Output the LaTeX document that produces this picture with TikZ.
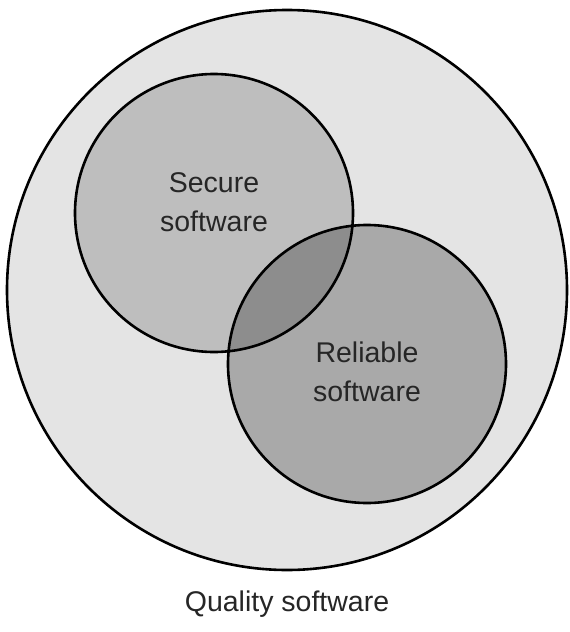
\documentclass[tikz,border=0pt]{standalone}
\usepackage{fontspec}
\setmainfont{Liberation Sans}
\definecolor{outerfill}{HTML}{E4E4E4}
\definecolor{securefill}{HTML}{BEBEBE}
\definecolor{relfill}{HTML}{A9A9A9}
\definecolor{bothfill}{HTML}{8D8D8D}
\begin{document}
\begin{tikzpicture}[x=1pt,y=-1pt,
  ring/.style={draw=black,line width=2.6pt},
  lbl/.style={font=\fontsize{28.5}{39}\selectfont,align=center,text=black!85}]
\useasboundingbox (0,0) rectangle (570,632);
\fill[white] (0,0) rectangle (570,632);
\coordinate (oc) at (287,290);
\coordinate (sc) at (214,213);
\coordinate (rc) at (367,364);
\fill[outerfill] (oc) circle (280);
\fill[securefill] (sc) circle (139);
\fill[relfill] (rc) circle (139);
\begin{scope}
  \clip (sc) circle (139);
  \fill[bothfill] (rc) circle (139);
\end{scope}
\draw[ring] (oc) circle (280);
\draw[ring] (sc) circle (139);
\draw[ring] (rc) circle (139);
\node[lbl] (secure) at (214,202) {Secure\\software};
\node[lbl] (reliable) at (367,372) {Reliable\\software};
\node[lbl] (quality) at (287,604) {Quality software};
\end{tikzpicture}
\end{document}
